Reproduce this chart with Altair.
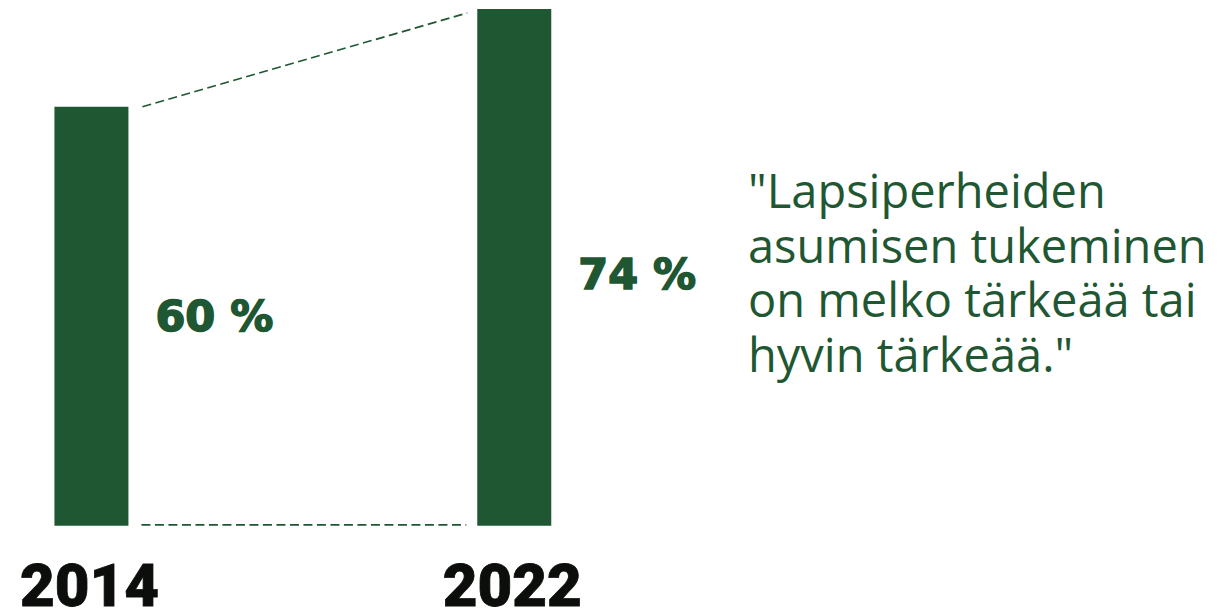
import altair as alt
import pandas as pd

years = [2014, 2022]
values = [60, 74]
value_labels = ["60 %", "74 %"]
year_labels = ["2014", "2022"]
quote_lines = ['"Lapsiperheiden', "asumisen tukeminen", "on melko tärkeää tai", 'hyvin tärkeää."']

GREEN = "#1f5733"

df = pd.DataFrame({"year": years, "value": values, "label": value_labels, "ylabel": year_labels})
conn = pd.DataFrame({"x": [years[0]], "x2": [years[1]], "y": [values[0]], "y2": [values[1]]})
quote = pd.DataFrame({"text": ["\n".join(quote_lines)]})

xs = alt.Scale(domain=[2012.516, 2035.05], nice=False, zero=False)
ys = alt.Scale(domain=[-11.19, 74.14], zero=False, nice=False)

base = alt.Chart(df).transform_calculate(zero="0", mid="datum.value * 0.43 + 3.9")

bars = base.mark_bar(size=74, color=GREEN).encode(
    x=alt.X("year:Q", scale=xs, axis=None),
    y=alt.Y("value:Q", scale=ys, axis=None),
    y2="zero:Q",
)

ylabels = base.mark_text(
    font="Roboto", fontWeight=900, fontSize=60, color="#0b0e0b", stroke="#0b0e0b", strokeWidth=0.8,
    align="center", baseline="alphabetic", dx=-2,
).encode(
    x=alt.X("year:Q", scale=xs, axis=None),
    y=alt.value(598),
    text="ylabel:N",
)

pct = base.mark_text(
    font="DejaVu Sans", fontWeight="bold", fontSize=43, color=GREEN, stroke=GREEN, strokeWidth=1.6,
    align="left", baseline="middle", dx=64
).encode(
    x=alt.X("year:Q", scale=xs, axis=None),
    y=alt.Y("mid:Q", scale=ys, axis=None),
    text="label:N",
)

cbase = alt.Chart(conn).transform_calculate(b="0")

top_line = cbase.mark_rule(
    color=GREEN, strokeDash=[9, 4.5], strokeWidth=1.6, xOffset=51, x2Offset=-47, y2Offset=4, yOffset=0
).encode(
    x=alt.X("x:Q", scale=xs, axis=None), x2="x2:Q",
    y=alt.Y("y:Q", scale=ys, axis=None), y2="y2:Q",
)

base_line = cbase.mark_rule(
    color=GREEN, strokeDash=[9, 4.5], strokeWidth=1.6, xOffset=50, x2Offset=-48, yOffset=-1, y2Offset=-1
).encode(
    x=alt.X("x:Q", scale=xs, axis=None), x2="x2:Q",
    y=alt.Y("b:Q", scale=ys, axis=None), y2="b:Q",
)

qt = alt.Chart(quote).mark_text(
    font="Open Sans", fontSize=47, color=GREEN, align="left", baseline="alphabetic",
    lineBreak="\n", lineHeight=54.5
).encode(
    x=alt.value(740),
    y=alt.value(200),
    text="text:N",
)

chart = alt.layer(base_line, top_line, bars, pct, ylabels, qt).properties(
    width=1201, height=596, autosize="none", background="white",
    padding={"left": 0, "top": 0, "right": 0, "bottom": 8},
).configure_view(stroke=None)

chart.save("out.html", embed_options={"renderer": "svg", "actions": False})
